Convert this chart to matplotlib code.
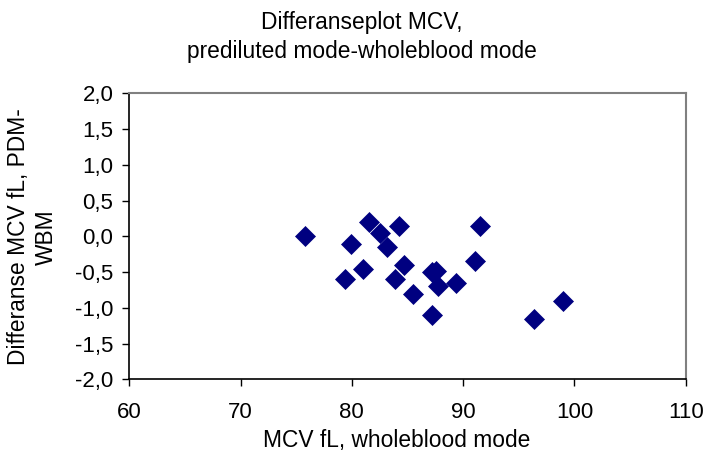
import matplotlib
matplotlib.use("Agg")
import matplotlib.pyplot as plt
from matplotlib.ticker import FuncFormatter

plt.rcParams['font.family'] = ['Liberation Sans', 'DejaVu Sans']

mcv_wb = [75.8, 81.5, 84.25, 82.5, 79.9, 83.2, 84.7, 81.0, 79.4, 83.9,
          87.2, 87.6, 85.5, 87.2, 87.75, 91.5, 91.1, 89.4, 96.4, 99.0]
diff = [0.0, 0.2, 0.15, 0.05, -0.1, -0.15, -0.4, -0.45, -0.6, -0.6,
        -0.5, -0.48, -0.8, -1.1, -0.7, 0.15, -0.35, -0.65, -1.15, -0.9]

x_ticks = [60, 70, 80, 90, 100, 110]
y_ticks = [-2.0, -1.5, -1.0, -0.5, 0.0, 0.5, 1.0, 1.5, 2.0]

fig = plt.figure(figsize=(7.07, 4.54), dpi=100)
ax = fig.add_axes([0.1829, 0.1641, 0.787, 0.6304])

ax.plot(mcv_wb, diff, linestyle='none', marker='D', markersize=10,
        markerfacecolor='#000080', markeredgecolor='#000080', markeredgewidth=0.5)

ax.set_xlim(60, 110)
ax.set_ylim(-2.0, 2.0)
ax.set_xticks(x_ticks)
ax.set_yticks(y_ticks)
ax.yaxis.set_major_formatter(FuncFormatter(lambda v, p: f"{v:.1f}".replace('.', ',')))
ax.xaxis.set_major_formatter(FuncFormatter(lambda v, p: f"{v:.0f}"))
ax.tick_params(axis='both', labelsize=16, direction='out', length=5, width=1, colors='black')
ax.tick_params(axis='y', pad=6.5)
ax.tick_params(axis='x', pad=11)

for s in ['left', 'bottom']:
    ax.spines[s].set_color('black')
    ax.spines[s].set_linewidth(1.2)
for s in ['top', 'right']:
    ax.spines[s].set_color('#808080')
    ax.spines[s].set_linewidth(1.5)

ax.set_xlabel("MCV fL, wholeblood mode", fontsize=16.4)
ax.xaxis.set_label_coords(0.481, -0.173)
fig.text(0.046, 0.478, "Differanse MCV fL, PDM-\nWBM", rotation=90,
         ha='center', va='center', multialignment='center',
         fontsize=16.4, linespacing=1.3)
fig.text(0.512, 0.975, "Differanseplot MCV,\nprediluted mode-wholeblood mode",
         ha='center', va='top', fontsize=16.4, linespacing=1.3)

fig.savefig("out.png", dpi=100, facecolor='white')
